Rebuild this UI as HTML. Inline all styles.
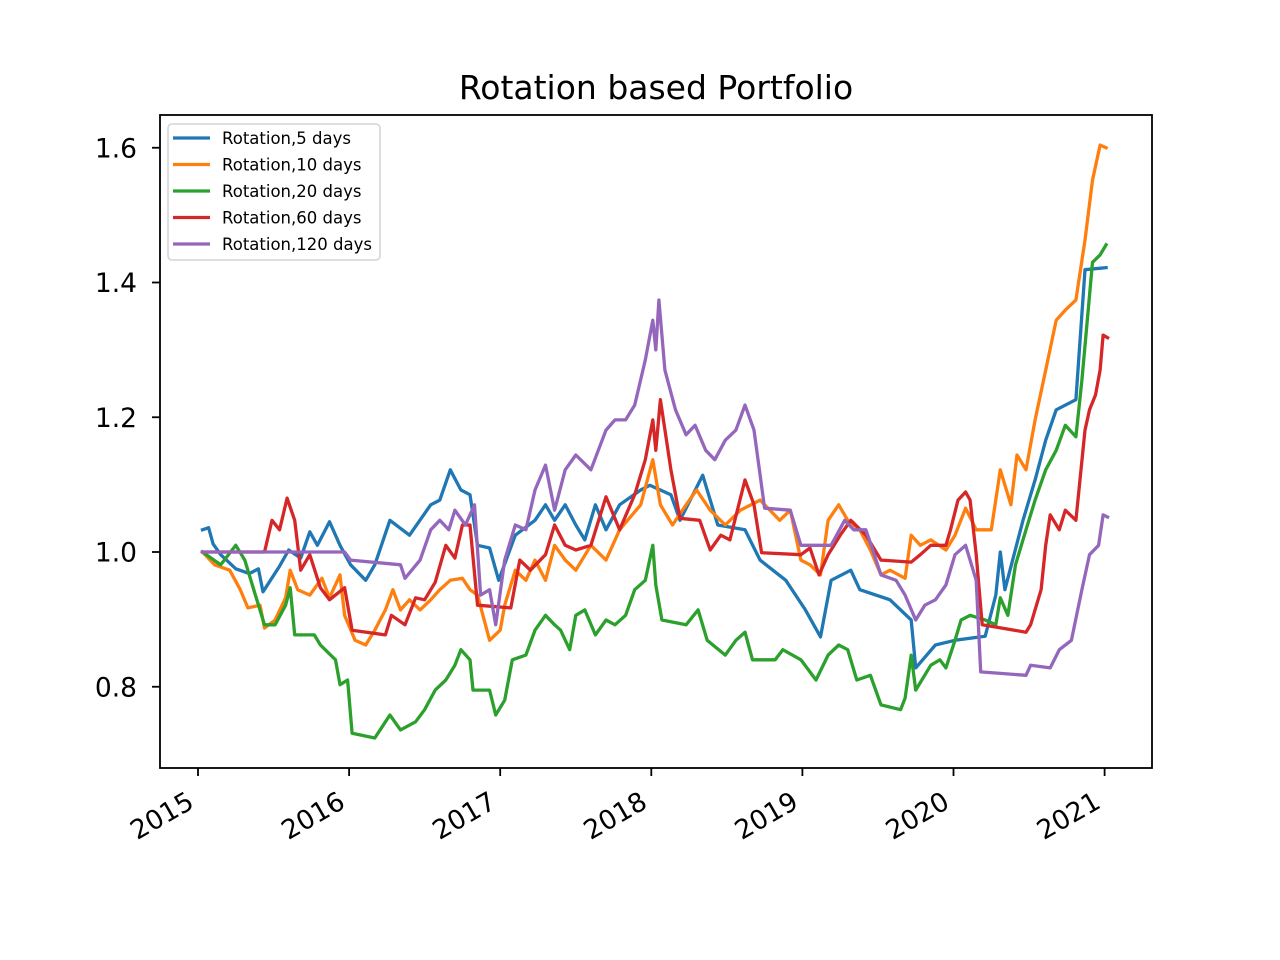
<!DOCTYPE html>
<html><head><meta charset="utf-8"><style>
body{margin:0;background:#fff}
svg{display:block;font-family:"DejaVu Sans","Liberation Sans",sans-serif}
</style></head><body>
<svg id="chart" width="1280" height="960" xmlns="http://www.w3.org/2000/svg">
<rect width="1280" height="960" fill="#fff"/>
<text x="656" y="99" font-size="33" text-anchor="middle">Rotation based Portfolio</text>
<g id="plot"></g>
</svg>
<script>
const xTicks=[2015,2016,2017,2018,2019,2020,2021];
const yTicks=[0.8,1.0,1.2,1.4,1.6];
const yTickLabels=["0.8","1.0","1.2","1.4","1.6"];
const seriesNames=["Rotation,5 days","Rotation,10 days","Rotation,20 days","Rotation,60 days","Rotation,120 days"];
const seriesColors=["#1f77b4","#ff7f0e","#2ca02c","#d62728","#9467bd"];
const s5=[[2015.03,1.033],[2015.07,1.036],[2015.10,1.012],[2015.15,0.996],[2015.25,0.975],[2015.34,0.968],[2015.40,0.975],[2015.43,0.941],[2015.54,0.979],[2015.60,1.003],[2015.68,0.991],[2015.74,1.030],[2015.79,1.010],[2015.87,1.045],[2015.94,1.010],[2016.01,0.981],[2016.11,0.958],[2016.17,0.981],[2016.27,1.047],[2016.40,1.025],[2016.54,1.070],[2016.60,1.077],[2016.67,1.122],[2016.74,1.092],[2016.80,1.085],[2016.85,1.010],[2016.93,1.006],[2016.99,0.958],[2017.10,1.025],[2017.23,1.047],[2017.30,1.070],[2017.36,1.047],[2017.43,1.070],[2017.50,1.040],[2017.56,1.018],[2017.63,1.070],[2017.70,1.033],[2017.79,1.070],[2017.93,1.092],[2017.99,1.099],[2018.13,1.085],[2018.19,1.047],[2018.34,1.114],[2018.44,1.040],[2018.62,1.033],[2018.72,0.988],[2018.89,0.958],[2019.02,0.914],[2019.12,0.874],[2019.19,0.958],[2019.32,0.973],[2019.38,0.944],[2019.58,0.929],[2019.72,0.899],[2019.75,0.828],[2019.88,0.862],[2020.01,0.869],[2020.21,0.875],[2020.28,0.936],[2020.31,1.000],[2020.34,0.944],[2020.46,1.047],[2020.54,1.107],[2020.61,1.166],[2020.68,1.211],[2020.81,1.226],[2020.87,1.419],[2021.01,1.422]];
const s10=[[2015.03,1.0],[2015.11,0.981],[2015.21,0.973],[2015.28,0.944],[2015.33,0.917],[2015.41,0.921],[2015.44,0.887],[2015.51,0.899],[2015.58,0.932],[2015.61,0.973],[2015.66,0.944],[2015.74,0.936],[2015.82,0.961],[2015.87,0.932],[2015.94,0.966],[2015.97,0.906],[2016.04,0.869],[2016.11,0.862],[2016.17,0.884],[2016.24,0.914],[2016.29,0.944],[2016.34,0.914],[2016.40,0.929],[2016.47,0.914],[2016.54,0.929],[2016.60,0.944],[2016.67,0.958],[2016.75,0.961],[2016.80,0.944],[2016.85,0.936],[2016.93,0.869],[2017.00,0.884],[2017.03,0.921],[2017.10,0.973],[2017.17,0.958],[2017.23,0.988],[2017.30,0.958],[2017.36,1.010],[2017.43,0.988],[2017.50,0.973],[2017.60,1.010],[2017.70,0.988],[2017.79,1.033],[2017.93,1.070],[2018.01,1.137],[2018.06,1.070],[2018.14,1.040],[2018.23,1.070],[2018.30,1.092],[2018.39,1.062],[2018.49,1.040],[2018.59,1.062],[2018.72,1.077],[2018.85,1.047],[2018.92,1.062],[2018.99,0.988],[2019.05,0.981],[2019.12,0.966],[2019.17,1.047],[2019.24,1.070],[2019.30,1.047],[2019.38,1.033],[2019.45,1.003],[2019.52,0.966],[2019.58,0.973],[2019.68,0.961],[2019.72,1.025],[2019.78,1.010],[2019.85,1.018],[2019.95,1.003],[2020.01,1.025],[2020.08,1.065],[2020.15,1.033],[2020.25,1.033],[2020.31,1.122],[2020.38,1.070],[2020.42,1.144],[2020.48,1.122],[2020.54,1.196],[2020.61,1.270],[2020.68,1.344],[2020.74,1.359],[2020.81,1.374],[2020.87,1.463],[2020.92,1.552],[2020.97,1.604],[2021.01,1.600]];
const s20=[[2015.03,1.0],[2015.15,0.981],[2015.25,1.010],[2015.31,0.988],[2015.38,0.936],[2015.44,0.892],[2015.51,0.892],[2015.58,0.921],[2015.61,0.947],[2015.64,0.877],[2015.77,0.877],[2015.81,0.862],[2015.91,0.840],[2015.94,0.803],[2015.99,0.810],[2016.02,0.731],[2016.17,0.724],[2016.27,0.758],[2016.34,0.736],[2016.44,0.748],[2016.50,0.766],[2016.57,0.795],[2016.64,0.810],[2016.70,0.832],[2016.74,0.855],[2016.80,0.840],[2016.82,0.795],[2016.93,0.795],[2016.97,0.758],[2017.03,0.780],[2017.08,0.840],[2017.17,0.847],[2017.23,0.884],[2017.30,0.906],[2017.36,0.892],[2017.40,0.884],[2017.46,0.855],[2017.50,0.906],[2017.56,0.914],[2017.63,0.877],[2017.70,0.899],[2017.76,0.892],[2017.83,0.906],[2017.89,0.944],[2017.96,0.958],[2018.01,1.010],[2018.03,0.951],[2018.07,0.899],[2018.23,0.892],[2018.31,0.914],[2018.37,0.869],[2018.49,0.847],[2018.56,0.869],[2018.62,0.881],[2018.67,0.840],[2018.82,0.840],[2018.87,0.855],[2018.99,0.840],[2019.09,0.810],[2019.17,0.847],[2019.24,0.862],[2019.30,0.855],[2019.36,0.810],[2019.45,0.817],[2019.52,0.773],[2019.65,0.766],[2019.68,0.783],[2019.72,0.847],[2019.75,0.795],[2019.85,0.832],[2019.91,0.840],[2019.95,0.828],[2020.01,0.869],[2020.05,0.899],[2020.11,0.906],[2020.21,0.899],[2020.28,0.892],[2020.31,0.932],[2020.36,0.906],[2020.41,0.981],[2020.48,1.033],[2020.54,1.077],[2020.61,1.122],[2020.68,1.151],[2020.74,1.188],[2020.81,1.171],[2020.85,1.255],[2020.92,1.430],[2020.97,1.441],[2021.01,1.456]];
const s60=[[2015.03,1.0],[2015.44,1.000],[2015.49,1.047],[2015.54,1.033],[2015.59,1.080],[2015.64,1.047],[2015.68,0.973],[2015.74,0.996],[2015.81,0.947],[2015.87,0.929],[2015.97,0.947],[2016.02,0.884],[2016.24,0.877],[2016.28,0.906],[2016.37,0.892],[2016.44,0.932],[2016.50,0.929],[2016.57,0.955],[2016.64,1.010],[2016.70,0.991],[2016.75,1.040],[2016.80,1.040],[2016.85,0.921],[2017.07,0.917],[2017.13,0.988],[2017.20,0.973],[2017.30,0.996],[2017.36,1.040],[2017.43,1.010],[2017.50,1.003],[2017.60,1.010],[2017.70,1.082],[2017.79,1.033],[2017.89,1.085],[2017.96,1.137],[2018.01,1.196],[2018.03,1.151],[2018.06,1.226],[2018.13,1.122],[2018.19,1.050],[2018.32,1.047],[2018.39,1.003],[2018.46,1.025],[2018.52,1.018],[2018.62,1.107],[2018.68,1.070],[2018.73,0.999],[2018.99,0.996],[2019.05,1.006],[2019.11,0.966],[2019.17,0.996],[2019.25,1.025],[2019.32,1.047],[2019.42,1.025],[2019.52,0.988],[2019.72,0.985],[2019.78,0.996],[2019.85,1.010],[2019.95,1.010],[2019.98,1.033],[2020.03,1.077],[2020.08,1.089],[2020.11,1.077],[2020.15,0.996],[2020.19,0.892],[2020.48,0.881],[2020.51,0.892],[2020.58,0.944],[2020.61,1.010],[2020.64,1.055],[2020.70,1.033],[2020.74,1.062],[2020.81,1.047],[2020.87,1.181],[2020.90,1.211],[2020.94,1.233],[2020.97,1.270],[2020.99,1.322],[2021.02,1.318]];
const s120=[[2015.03,1.0],[2015.97,1.000],[2016.01,0.988],[2016.34,0.981],[2016.37,0.961],[2016.47,0.988],[2016.54,1.033],[2016.60,1.047],[2016.66,1.033],[2016.70,1.062],[2016.77,1.040],[2016.83,1.070],[2016.87,0.936],[2016.93,0.944],[2016.97,0.892],[2017.03,0.988],[2017.10,1.040],[2017.17,1.033],[2017.23,1.092],[2017.30,1.129],[2017.36,1.062],[2017.43,1.122],[2017.50,1.144],[2017.60,1.122],[2017.70,1.181],[2017.76,1.196],[2017.83,1.196],[2017.89,1.218],[2017.96,1.285],[2018.01,1.344],[2018.03,1.300],[2018.05,1.374],[2018.09,1.270],[2018.16,1.211],[2018.23,1.174],[2018.29,1.188],[2018.36,1.151],[2018.42,1.137],[2018.49,1.166],[2018.56,1.181],[2018.62,1.218],[2018.68,1.181],[2018.75,1.065],[2018.92,1.062],[2018.99,1.010],[2019.19,1.010],[2019.28,1.047],[2019.34,1.033],[2019.42,1.033],[2019.52,0.966],[2019.62,0.958],[2019.68,0.936],[2019.75,0.899],[2019.81,0.921],[2019.88,0.929],[2019.95,0.951],[2020.01,0.996],[2020.08,1.010],[2020.15,0.958],[2020.18,0.822],[2020.48,0.817],[2020.51,0.832],[2020.64,0.828],[2020.70,0.855],[2020.78,0.869],[2020.85,0.944],[2020.90,0.996],[2020.96,1.010],[2020.99,1.055],[2021.02,1.052]];
const allSeries=[s5,s10,s20,s60,s120];

const L=160,R=1152,T=115,B=768;
function xs(d){return 198+(d-2015)*151.1;}
function ys(v){return 552-(v-1)*673.75;}
const NS="http://www.w3.org/2000/svg";
const g=document.getElementById('plot');
function mk(tag,attrs,parent){const e=document.createElementNS(NS,tag);for(const k in attrs)e.setAttribute(k,attrs[k]);(parent||g).appendChild(e);return e;}

allSeries.forEach((s,i)=>{
  const p=mk('polyline',{points:s.map(d=>xs(d[0]).toFixed(1)+','+ys(d[1]).toFixed(1)).join(' '),fill:'none',stroke:seriesColors[i],'stroke-width':3.3,'stroke-linejoin':'round','stroke-linecap':'square'});
  
  
});
const frame=mk('rect',{x:L,y:T,width:R-L,height:B-T,fill:'none',stroke:'#000','stroke-width':1.8});



xTicks.forEach(t=>{
  const x=xs(t);
  const tk=mk('line',{x1:x,y1:B,x2:x,y2:B+8,stroke:'#000','stroke-width':1.8});
  
  
  const tx=mk('text',{transform:`translate(${x-12},${B+22}) rotate(-30)`,'text-anchor':'end','dominant-baseline':'hanging','font-size':26.5});
  tx.textContent=String(t);
  
  
});
yTicks.forEach((t,i)=>{
  const y=ys(t);
  const tk=mk('line',{x1:L-8,y1:y,x2:L,y2:y,stroke:'#000','stroke-width':1.8});
  
  
  const tx=mk('text',{x:L-23,y:y+9.5,'text-anchor':'end','font-size':26.5});
  tx.textContent=yTickLabels[i];
  
  
});

const lg=mk('g',{});


mk('rect',{x:168,y:124,width:212,height:136,rx:4,fill:'#fff','fill-opacity':0.8,stroke:'#d6d6d6','stroke-width':1.6},lg);
seriesNames.forEach((n,i)=>{
  const y=138+i*26.5;
  const ln=mk('line',{x1:173,y1:y,x2:210,y2:y,stroke:seriesColors[i],'stroke-width':3.3},lg);
  
  
  const tx=mk('text',{x:222,y:y+6,'font-size':16.5},lg);
  tx.textContent=n;
  
  
});
</script>
</body></html>
